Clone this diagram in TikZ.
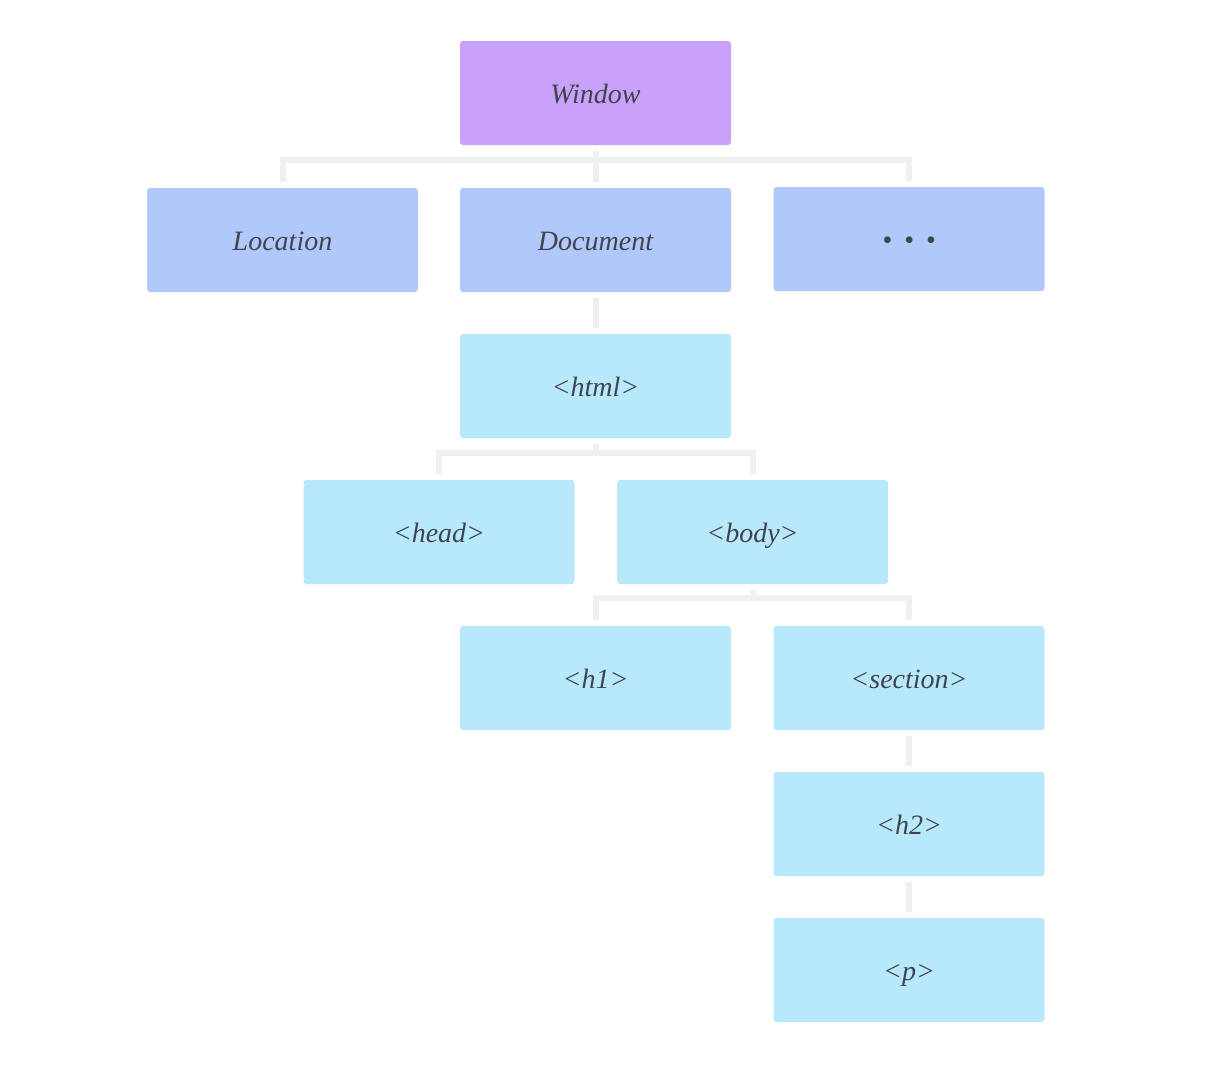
\documentclass[tikz,border=0pt]{standalone}
\usepackage{fontspec}
\setmainfont{Liberation Serif}
\definecolor{winfill}{HTML}{C8A1F8}
\definecolor{objfill}{HTML}{B0C8FA}
\definecolor{tagfill}{HTML}{B8E9FB}
\definecolor{linkgray}{HTML}{F0F0F0}
\definecolor{labelgray}{HTML}{41434F}
\tikzset{
  box/.style={rectangle, rounded corners=2.25pt, inner sep=0pt,
    minimum width=203.25pt, minimum height=78pt,
    text height=16pt, text depth=0pt,
    text=labelgray, font=\fontsize{21}{25}\selectfont\itshape},
  winbox/.style={box, fill=winfill},
  objbox/.style={box, fill=objfill},
  tagbox/.style={box, fill=tagfill},
  link/.style={draw=linkgray, line width=4.5pt, shorten <=4pt, shorten >=4.5pt}
}
\begin{document}
\begin{tikzpicture}[x=0.75pt, y=-0.75pt]
      \useasboundingbox (0,0) rectangle (1212,1082);
      \path
        (595.5,93) node[winbox] (win){Window}
        (282.5,240) node[objbox] (loc){Location}
        (595.5,240) node[objbox] (doc){Document}
        (909,239) node[objbox] (more){\textbullet\hspace{9pt}\textbullet\hspace{9pt}\textbullet}
        (595.5,386) node[tagbox] (html){<html>}
        (439,532) node[tagbox] (head){<head>}
        (752.5,532) node[tagbox] (body){<body>}
        (595.5,678) node[tagbox] (h1){<h1>}
        (909,678) node[tagbox] (section){<section>}
        (909,824) node[tagbox] (h2){<h2>}
        (909,970) node[tagbox] (p){<p>};
      \begin{scope}[link]
        \draw (win.south) -- ++(0,15) -| (loc.north);
        \draw (win.south) -- ++(0,15) -| (doc.north);
        \draw (win.south) -- ++(0,15) -| (more.north);
        \draw (doc) -- (html);
        \draw (html.south) -- ++(0,15) -| (head.north);
        \draw (html.south) -- ++(0,15) -| (body.north);
        \draw (body.south) -- ++(0,14) -| (h1.north);
        \draw (body.south) -- ++(0,14) -| (section.north);
        \draw (section) -- (h2);
        \draw (h2) -- (p);
      \end{scope}
    \end{tikzpicture}
\end{document}
